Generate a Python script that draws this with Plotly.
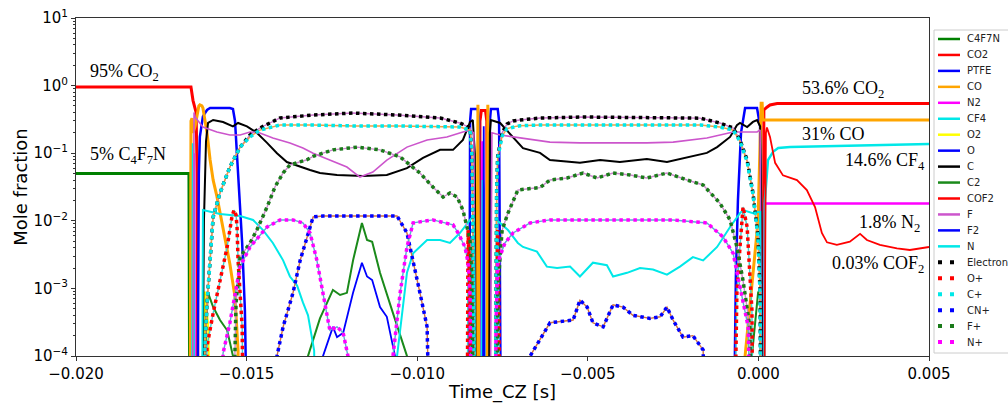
import plotly.graph_objects as go

OFF = 1e-6  # below the visible range (curve leaves the chart at the bottom)

# ---------------- data (time in s, mole fraction) ----------------
T_C4F7N = [-0.0200, -0.01669, -0.01666]
Y_C4F7N = [0.05, 0.05, OFF]

T_CO2 = [-0.0200, -0.01663, -0.01657, -0.01651, -0.01648, -0.01645, -0.01642,
         -0.00819, -0.00816, -0.00812, -0.00800, -0.00796, -0.00793,
         0.00013, 0.00016, 0.00025, 0.00034, 0.00055, 0.00122, 0.00500]
Y_CO2 = [0.95, 0.95, 0.6, 0.44, 0.4, 0.05, OFF,
         OFF, 0.3, 0.43, 0.43, 0.3, OFF,
         OFF, 0.436, 0.48, 0.516, 0.545, 0.545, 0.545]

T_PTFE = [-0.01645, -0.01640, -0.01637, -0.01628, -0.01616, -0.01607, -0.01549, -0.01540,
          -0.01534, -0.01525, -0.01513, -0.01505, -0.01496,
          -0.00848, -0.00845, -0.00842, -0.00822, -0.00819, -0.00816,
          -0.00790, -0.00787, -0.00784, -0.00764, -0.00760, -0.00754,
          -0.00074, -0.00066, -0.00060, -0.00051, -0.00039, -0.00004, 0.00005, 0.00011]
Y_PTFE = [OFF, 0.05, 0.174, 0.35, 0.436, 0.466, 0.466, 0.45,
          0.3, 0.044, 0.0047, 0.00048, OFF,
          OFF, 0.3, 0.45, 0.45, 0.3, OFF,
          OFF, 0.3, 0.45, 0.45, 0.3, OFF,
          OFF, 0.0015, 0.02, 0.2, 0.466, 0.466, 0.25, OFF]

T_CO = [-0.01666, -0.01663, -0.01660, -0.01657, -0.01651, -0.01645, -0.01640, -0.01637,
        -0.01631, -0.01628, -0.01616, -0.01607, -0.01598, -0.01587, -0.01569, -0.01549,
        -0.01534, -0.01528, -0.01525, -0.01522,
        -0.00827, -0.00822, -0.00818, -0.00797, -0.00793, -0.00789,
        -0.00051, -0.00039, -0.00016, -0.00001, 0.00005, 0.00008, 0.00011, 0.00013, 0.00500]
Y_CO = [OFF, 0.3, 0.33, 0.2, 0.25, 0.4, 0.5, 0.52,
        0.5, 0.466, 0.2, 0.08, 0.04, 0.023, 0.0081, 0.0023,
        0.00075, 0.00027, 0.00012, OFF,
        OFF, 0.52, OFF, OFF, 0.52, OFF,
        OFF, 1e-4, 0.0015, 0.01, 0.15, 0.55, 0.55, 0.31, 0.31]

T_N2 = [-0.01657, -0.01654, -0.01651, -0.00813, -0.00809, -0.00805, 0.00013, 0.00019, 0.00500]
Y_N2 = [OFF, 0.1, OFF, OFF, 0.15, OFF, OFF, 0.018, 0.018]

T_CF4 = [-0.01660, -0.01657, -0.01654, -0.00813, -0.00810, -0.00808, -0.00805, -0.00802,
         0.00016, 0.00019, 0.00028, 0.00043, 0.00058, 0.00093, 0.00500]
Y_CF4 = [OFF, 0.14, OFF, OFF, 0.03, 0.04, 0.03, OFF,
         OFF, 0.02, 0.079, 0.105, 0.119, 0.123, 0.137]

T_O2 = [-0.01625, -0.01622, -0.01613, -0.01601]
Y_O2 = [OFF, 0.0009, 0.0003, OFF]

T_O = [-0.00808, -0.00805, -0.00802]
Y_O = [OFF, 0.25, OFF]

T_C = [-0.01631, -0.01625, -0.01619, -0.01613, -0.01598, -0.01569, -0.01540, -0.01525,
       -0.01499, -0.01470, -0.01440, -0.01411, -0.01382, -0.01343, -0.01314, -0.01285,
       -0.01235, -0.01159, -0.01089, -0.01030, -0.00983, -0.00933, -0.00895, -0.00866,
       -0.00845, -0.00837, -0.00831, -0.00828,
       -0.00790, -0.00787, -0.00784, -0.00757, -0.00719, -0.00690, -0.00640, -0.00611,
       -0.00523, -0.00464, -0.00406, -0.00327, -0.00268, -0.00200, -0.00151, -0.00121,
       -0.00083, -0.00063, -0.00054, -0.00033, -0.00016, -0.00004, 0.00005, 0.00009, 0.00011]
Y_C = [OFF, 0.01, 0.15, 0.28, 0.31, 0.289, 0.25, 0.28,
       0.25, 0.2, 0.142, 0.1, 0.074, 0.0625, 0.0564, 0.0509,
       0.0476, 0.046, 0.0476, 0.06, 0.085, 0.112, 0.112, 0.157,
       0.29, 0.31, 0.1, OFF,
       OFF, 0.2, 0.31, 0.28, 0.174, 0.119, 0.101, 0.079,
       0.072, 0.079, 0.074, 0.082, 0.074, 0.088, 0.101, 0.123,
       0.174, 0.26, 0.28, 0.244, 0.29, 0.31, 0.25, 0.01, OFF]

T_C2 = [-0.01625, -0.01619, -0.01613, -0.01598, -0.01578, -0.01557, -0.01549, -0.01540, -0.01537,
        -0.01323, -0.01320, -0.01285, -0.01247, -0.01226, -0.01206, -0.01188, -0.01162,
        -0.01147, -0.01132, -0.01109, -0.01071, -0.01030, -0.01027,
        -0.00030, -0.00019, -0.00001, 0.00005, 0.00008]
Y_C2 = [OFF, 0.0003, 0.00086, 0.00053, 0.00034, 0.00024, 0.00016, 1e-4, OFF,
        OFF, 1e-4, 0.00036, 0.00095, 0.0008, 0.00086, 0.0026, 0.0093,
        0.0052, 0.0049, 0.0017, 0.00043, 1e-4, OFF,
        OFF, 1e-4, 0.00086, 0.001, OFF]

T_COF2 = [0.00016, 0.00022, 0.00025, 0.00034, 0.00049, 0.00072, 0.00113, 0.00142, 0.00166,
          0.00186, 0.00201, 0.00230, 0.00268, 0.00298, 0.00318, 0.00356, 0.00406, 0.00444, 0.00500]
Y_COF2 = [OFF, 0.2, 0.24, 0.174, 0.072, 0.047, 0.040, 0.0285, 0.016,
          0.0066, 0.0048, 0.0044, 0.0049, 0.0064, 0.0052, 0.0044, 0.0039, 0.0037, 0.0041]

T_F = [-0.01660, -0.01654, -0.01651, -0.01628, -0.01587, -0.01549, -0.01519, -0.01490,
       -0.01461, -0.01423, -0.01373, -0.01335, -0.01305, -0.01256, -0.01206, -0.01168,
       -0.01130, -0.01089, -0.01030, -0.00971, -0.00913, -0.00866, -0.00845, -0.00834,
       -0.00828,
       -0.00787, -0.00781, -0.00757, -0.00690, -0.00611, -0.00523, -0.00426, -0.00327,
       -0.00250, -0.00151, -0.00074, -0.00004, 0.00005, 0.00011]
Y_F = [OFF, 0.4, 0.343, 0.244, 0.206, 0.186, 0.186, 0.206,
       0.199, 0.168, 0.142, 0.119, 0.1, 0.08, 0.0625, 0.0444,
       0.0527, 0.079, 0.123, 0.157, 0.174, 0.206, 0.22, 0.2,
       OFF,
       OFF, 0.2, 0.186, 0.168, 0.146, 0.142, 0.142, 0.142,
       0.146, 0.168, 0.206, 0.206, 0.22, OFF]

T_F2 = [-0.01279, -0.01276, -0.01247, -0.01235, -0.01217, -0.01203, -0.01188, -0.01162,
        -0.01147, -0.01132, -0.01109, -0.01089, -0.01065, -0.01062]
Y_F2 = [OFF, 1e-4, 0.00027, 0.00019, 0.00022, 0.00043, 0.00086, 0.0024,
        0.0015, 0.00133, 0.00053, 0.00038, 1e-4, OFF]

T_N = [-0.01631, -0.01628, -0.01578, -0.01519, -0.01481, -0.01452, -0.01423, -0.01393,
       -0.01373, -0.01352, -0.01335, -0.01320, -0.01302, -0.01297,
       -0.01065, -0.01059, -0.01030, -0.01012, -0.00971, -0.00933, -0.00904, -0.00875,
       -0.00845, -0.00834, -0.00828,
       -0.00772, -0.00767, -0.00734, -0.00705, -0.00690, -0.00649, -0.00620, -0.00590,
       -0.00552, -0.00523, -0.00485, -0.00444, -0.00426, -0.00385, -0.00347, -0.00309,
       -0.00268, -0.00230, -0.00192, -0.00162, -0.00121, -0.00083, -0.00054, -0.00045,
       -0.00016, -0.00001, 0.00005, 0.00008]
Y_N = [OFF, 0.0144, 0.0126, 0.0118, 0.0103, 0.0073, 0.0047, 0.0026,
       0.0015, 0.0011, 0.00062, 0.0004, 1.2e-4, OFF,
       OFF, 1e-4, 0.0017, 0.0033, 0.0052, 0.0052, 0.0047, 0.0066,
       0.0103, 0.012, OFF,
       OFF, 0.0103, 0.0073, 0.0047, 0.0041, 0.0035, 0.0021, 0.002,
       0.0021, 0.0015, 0.0024, 0.0022, 0.0015, 0.0017, 0.002, 0.0019,
       0.0016, 0.0021, 0.0029, 0.0026, 0.0041, 0.0081, 0.013, 0.0144,
       0.013, 0.0135, 0.0135, OFF]

T_ELECTRON = [-0.01628, -0.01622, -0.01616, -0.01607, -0.01598, -0.01578, -0.01549, -0.01519,
              -0.01490, -0.01461, -0.01402, -0.01305, -0.01188, -0.01059, -0.00933, -0.00875,
              -0.00845, -0.00840, -0.00837, -0.00834, -0.00831,
              -0.00772, -0.00769, -0.00767, -0.00764, -0.00751, -0.00737, -0.00719, -0.00699,
              -0.00640, -0.00514, -0.00347, -0.00171, -0.00113, -0.00074, -0.00054, -0.00033,
              -0.00016, -0.00001, 0.00005, 0.00008]
Y_ELECTRON = [OFF, 1.4e-4, 0.0006, 0.003, 0.0114, 0.0258, 0.0625, 0.123,
              0.186, 0.236, 0.332, 0.367, 0.393, 0.367, 0.332, 0.28,
              0.236, 0.1, 0.01, 1e-4, OFF,
              OFF, 0.003, 0.03, 0.09, 0.2, 0.27, 0.3, 0.31,
              0.331, 0.343, 0.34, 0.33, 0.28, 0.236, 0.157, 0.079,
              0.0258, 0.0058, 0.00086, OFF]

T_CPLUS = T_ELECTRON
Y_CPLUS = [OFF, 1.4e-4, 0.0006, 0.003, 0.0114, 0.0258, 0.0625, 0.123,
           0.174, 0.22, 0.261, 0.261, 0.253, 0.253, 0.25, 0.244,
           0.22, 0.1, 0.01, 1e-4, OFF,
           OFF, 0.003, 0.03, 0.085, 0.18, 0.23, 0.245, 0.255,
           0.261, 0.261, 0.261, 0.261, 0.244, 0.22, 0.15, 0.075,
           0.025, 0.0055, 0.0008, OFF]

T_OPLUS = [-0.01622, -0.01616, -0.01598, -0.01578, -0.01557, -0.01543, -0.01537, -0.01531,
           -0.01528, -0.01525, -0.01519, -0.01513, -0.01508,
           -0.00854, -0.00851, -0.00845, -0.00842,
           -0.00767, -0.00764, -0.00761, -0.00757,
           -0.00072, -0.00066, -0.00063, -0.00054, -0.00045, -0.00033, -0.00025, -0.00019, -0.00016]
Y_OPLUS = [OFF, 1.4e-4, 0.00043, 0.0013, 0.0041, 0.0114, 0.0144, 0.0122,
           0.0081, 0.0026, 0.00086, 0.00027, OFF,
           OFF, 0.0073, 0.001, OFF,
           OFF, 0.0073, 0.001, OFF,
           OFF, 1e-4, 0.00086, 0.0041, 0.016, 0.0081, 0.002, 0.00048, OFF]

T_CNPLUS = [-0.01417, -0.01411, -0.01393, -0.01364, -0.01343, -0.01323, -0.01305, -0.01276,
            -0.01159, -0.01059, -0.01030, -0.01012, -0.00992, -0.00971, -0.00960,
            -0.00678, -0.00669, -0.00611, -0.00581, -0.00543, -0.00523, -0.00502, -0.00485,
            -0.00455, -0.00426, -0.00397, -0.00368, -0.00318, -0.00288, -0.00268, -0.00250,
            -0.00221, -0.00192, -0.00162, -0.00151]
Y_CNPLUS = [OFF, 1e-4, 0.00027, 0.00086, 0.0026, 0.0058, 0.0114, 0.0118,
            0.0118, 0.0118, 0.0066, 0.0026, 0.00086, 0.00027, OFF,
            OFF, 1e-4, 0.00031, 0.00032, 0.00034, 0.00067, 0.00053, 0.00031,
            0.00027, 0.00057, 0.00053, 0.0004, 0.00036, 0.00038, 0.00053, 0.00034,
            0.00019, 0.0002, 0.000123, OFF]

T_FPLUS = [-0.01543, -0.01531, -0.01519, -0.01490, -0.01470, -0.01440, -0.01417, -0.01393,
           -0.01373, -0.01323, -0.01305, -0.01247, -0.01176, -0.01109, -0.01050, -0.00992,
           -0.00954, -0.00924, -0.00904, -0.00883, -0.00866, -0.00854, -0.00845, -0.00840,
           -0.00834,
           -0.00767, -0.00764, -0.00757, -0.00751, -0.00734, -0.00719, -0.00705, -0.00669,
           -0.00640, -0.00611, -0.00561, -0.00514, -0.00473, -0.00426, -0.00376, -0.00327,
           -0.00268, -0.00209, -0.00162, -0.00113, -0.00083, -0.00063, -0.00045, -0.00025,
           -0.00019]
Y_FPLUS = [OFF, 0.0006, 0.0029, 0.0047, 0.0073, 0.016, 0.0316, 0.051,
           0.067, 0.08, 0.09, 0.112, 0.123, 0.112, 0.088, 0.0509,
           0.0316, 0.0225, 0.0258, 0.0225, 0.0144, 0.0081, 0.0052, 0.0015,
           OFF,
           OFF, 0.0008, 0.003, 0.0073, 0.013, 0.02, 0.0285, 0.03,
           0.031, 0.0401, 0.043, 0.0509, 0.043, 0.0509, 0.0476, 0.043,
           0.0509, 0.0401, 0.0339, 0.0183, 0.0103, 0.0041, 0.0013, 0.00027,
           OFF]

T_NPLUS = [-0.01572, -0.01569, -0.01549, -0.01534, -0.01519, -0.01490, -0.01440, -0.01402,
           -0.01364, -0.01335, -0.01314, -0.01294, -0.01276, -0.01256, -0.01235, -0.01217,
           -0.01203, -0.01197,
           -0.01074, -0.01071, -0.01050, -0.01030, -0.01012, -0.00954, -0.00895, -0.00880,
           -0.00860, -0.00851, -0.00845, -0.00840,
           -0.00772, -0.00769, -0.00764, -0.00743, -0.00719, -0.00669, -0.00611, -0.00444,
           -0.00250, -0.00151, -0.00104, -0.00074, -0.00054, -0.00030, -0.00019]
Y_NPLUS = [OFF, 1.1e-4, 0.00031, 0.00086, 0.0021, 0.0041, 0.0081, 0.0103,
           0.0103, 0.0093, 0.0066, 0.0026, 0.00086, 0.00024, 0.00027, 0.00022,
           1e-4, OFF,
           OFF, 1e-4, 0.00086, 0.0041, 0.0093, 0.0103, 0.0087, 0.0066,
           0.0041, 0.0024, 0.0008, OFF,
           OFF, 0.0003, 0.0024, 0.0047, 0.0066, 0.0093, 0.0103, 0.0103,
           0.0103, 0.0093, 0.0058, 0.0033, 0.00105, 0.00027, OFF]

Y_TICK_VALS = [1e-4, 1e-3, 1e-2, 1e-1, 1e0, 1e1]
Y_TICK_TEXT = ["10<sup>\u22124</sup>", "10<sup>\u22123</sup>", "10<sup>\u22122</sup>",
               "10<sup>\u22121</sup>", "10<sup>0</sup>", "10<sup>1</sup>"]
X_TICK_VALS = [-0.020, -0.015, -0.010, -0.005, 0.000, 0.005]

# ---------------- figure ----------------
fig = go.Figure()

solid = [
    ("C4F7N", T_C4F7N, Y_C4F7N, "#008000", 3),
    ("CO2", T_CO2, Y_CO2, "#ff0000", 3),
    ("PTFE", T_PTFE, Y_PTFE, "#0000ff", 2.5),
    ("CO", T_CO, Y_CO, "#ffa500", 3),
    ("N2", T_N2, Y_N2, "#ff00ff", 2.5),
    ("CF4", T_CF4, Y_CF4, "#00e8e8", 2.5),
    ("O2", T_O2, Y_O2, "#ffff00", 2),
    ("O", T_O, Y_O, "#0000ff", 1.8),
    ("C", T_C, Y_C, "#000000", 2),
    ("C2", T_C2, Y_C2, "#1a8a1a", 2),
    ("COF2", T_COF2, Y_COF2, "#ff0000", 1.8),
    ("F", T_F, Y_F, "#cc55cc", 1.6),
    ("F2", T_F2, Y_F2, "#0000ff", 1.8),
    ("N", T_N, Y_N, "#00e8e8", 2),
]
for name, t, y, col, w in solid:
    fig.add_trace(go.Scatter(x=t, y=y, mode="lines", name=name, showlegend=False,
                             line=dict(color=col, width=w)))

dotted = [
    ("Electron", T_ELECTRON, Y_ELECTRON, "#000000", "#cc77cc"),
    ("O+", T_OPLUS, Y_OPLUS, "#ff0000", "#40d0d0"),
    ("C+", T_CPLUS, Y_CPLUS, "#00e8e8", "#f0a040"),
    ("CN+", T_CNPLUS, Y_CNPLUS, "#0000ff", "#d07040"),
    ("F+", T_FPLUS, Y_FPLUS, "#1a7a1a", "#cc88cc"),
    ("N+", T_NPLUS, Y_NPLUS, "#ff00ff", "#5aaed0"),
]
for name, t, y, col, under in dotted:
    fig.add_trace(go.Scatter(x=t, y=y, mode="lines", showlegend=False, hoverinfo="skip",
                             line=dict(color=under, width=1.4)))
for name, t, y, col, under in dotted:
    fig.add_trace(go.Scatter(x=t, y=y, mode="lines", name=name, showlegend=False,
                             line=dict(color=col, width=3.5, dash="dot")))

# ---------------- legend (drawn as a compact box like the reference) ----------------
PLOT_L, PLOT_R, PLOT_T, PLOT_B = 76, 929, 18, 356
def px_x(px):
    return (px - PLOT_L) / (PLOT_R - PLOT_L)
def px_y(py):
    return (PLOT_B - py) / (PLOT_B - PLOT_T)

shapes = [dict(type="rect", xref="paper", yref="paper", layer="above",
               x0=px_x(934), x1=px_x(1020), y0=px_y(353), y1=px_y(30),
               line=dict(color="#cccccc", width=1), fillcolor="white")]
entries = [(n, c, "solid") for n, _, _, c, _ in solid] + \
          [(n, c, "dot") for n, _, _, c, _ in dotted]
row0, step = 39, 15.95
for i, (name, col, style) in enumerate(entries):
    yy = px_y(row0 + step * i)
    if style == "solid":
        ln = dict(color=col, width=2.5)
    else:
        ln = dict(color=col, width=4, dash="4px,8px")
    shapes.append(dict(type="line", xref="paper", yref="paper", layer="above",
                       x0=px_x(938), x1=px_x(960), y0=yy, y1=yy, line=ln))
    fig.add_annotation(xref="paper", yref="paper", x=px_x(965), y=yy, text=name,
                       showarrow=False, xanchor="left", yanchor="middle",
                       font=dict(family="DejaVu Sans", size=10, color="#222222"))
fig.update_layout(shapes=shapes)

ann_font = dict(family="Liberation Serif", size=18, color="#000000")
annots = [
    (-0.01965, 0.20, "95% CO<sub>2</sub>"),
    (-0.01965, -1.04, "5% C<sub>4</sub>F<sub>7</sub>N"),
    (0.00122, -0.065, "53.6% CO<sub>2</sub>"),
    (0.00122, -0.716, "31% CO"),
    (0.00248, -1.13, "14.6% CF<sub>4</sub>"),
    (0.00289, -2.033, "1.8% N<sub>2</sub>"),
    (0.00210, -2.64, "0.03% COF<sub>2</sub>"),
]
for x, y, txt in annots:
    fig.add_annotation(x=x, y=y, text=txt, showarrow=False, xanchor="left",
                       yanchor="middle", font=ann_font)

axis_font = dict(family="DejaVu Sans", size=15, color="#000000")
fig.update_layout(
    width=1008, height=403,
    margin=dict(l=76, r=79, t=18, b=47, autoexpand=False),
    paper_bgcolor="white", plot_bgcolor="white",
    font=dict(family="DejaVu Sans", color="#000000"),
    showlegend=False,
)
fig.update_xaxes(range=[-0.020, 0.005], tickvals=X_TICK_VALS, tickformat=".3f",
                 ticks="outside", ticklen=4, tickcolor="#333333",
                 showline=True, linecolor="#333333", linewidth=1, mirror=True,
                 showgrid=False, zeroline=False, tickfont=axis_font,
                 title=dict(text="Time_CZ [s]", font=dict(family="DejaVu Sans", size=18),
                            standoff=4))
fig.update_yaxes(type="log", range=[-4, 1], tickvals=Y_TICK_VALS, ticktext=Y_TICK_TEXT,
                 ticks="outside", ticklen=4, tickcolor="#333333",
                 minor=dict(ticks="outside", ticklen=2, tickcolor="#333333", dtick="D1",
                            showgrid=False),
                 showline=True, linecolor="#333333", linewidth=1, mirror=True,
                 showgrid=False, zeroline=False, tickfont=axis_font,
                 title=dict(text="Mole fraction", font=dict(family="DejaVu Sans", size=18),
                            standoff=1))

fig.write_html("out.html", config={"displayModeBar": False},
               post_script="document.body.style.margin='0';")
